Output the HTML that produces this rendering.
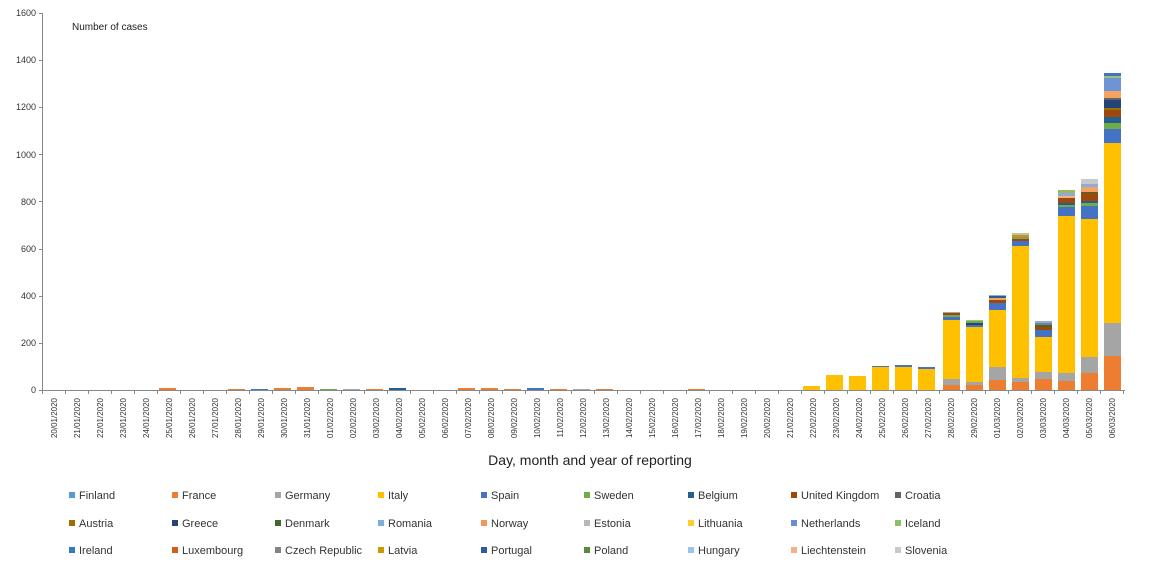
<!DOCTYPE html>
<html><head><meta charset="utf-8"><style>
html,body{margin:0;padding:0;background:#fff;}
svg{display:block;font-family:"Liberation Sans",Arial,sans-serif;}
</style></head><body>
<svg width="1160" height="570" viewBox="0 0 1160 570" xmlns="http://www.w3.org/2000/svg">
<rect width="1160" height="570" fill="#fff"/>
<g font-size="9" fill="#333" text-anchor="end">
<text x="36" y="393">0</text><text x="36" y="346">200</text><text x="36" y="299">400</text><text x="36" y="252">600</text><text x="36" y="205">800</text><text x="36" y="158">1000</text><text x="36" y="110">1200</text><text x="36" y="63">1400</text><text x="36" y="16">1600</text>
</g>
<text x="72" y="30" font-size="10" fill="#222">Number of cases</text>
<g stroke="#888" stroke-width="1">
<line x1="42.5" y1="13" x2="42.5" y2="390"/>
<line x1="39" y1="13.5" x2="42" y2="13.5"/><line x1="39" y1="60.5" x2="42" y2="60.5"/><line x1="39" y1="107.5" x2="42" y2="107.5"/><line x1="39" y1="154.5" x2="42" y2="154.5"/><line x1="39" y1="201.5" x2="42" y2="201.5"/><line x1="39" y1="249.5" x2="42" y2="249.5"/><line x1="39" y1="296.5" x2="42" y2="296.5"/><line x1="39" y1="343.5" x2="42" y2="343.5"/><line x1="39" y1="390.5" x2="42" y2="390.5"/>
</g>
<!-- small early bars -->
<g>
<rect x="159" y="388" width="17" height="2" fill="#ED7D31"/>
<rect x="228" y="389" width="17" height="1" fill="#ED7D31"/>
<rect x="251" y="389" width="17" height="1" fill="#4472C4"/>
<rect x="274" y="388" width="17" height="2" fill="#ED7D31"/>
<rect x="297" y="387" width="17" height="3" fill="#ED7D31"/>
<rect x="320" y="389" width="17" height="1" fill="#70AD47"/>
<rect x="343" y="389" width="17" height="1" fill="#A5A5A5"/>
<rect x="366" y="389" width="17" height="1" fill="#ED7D31"/>
<rect x="389" y="388" width="17" height="2" fill="#255E91"/>
<rect x="458" y="388" width="17" height="2" fill="#ED7D31"/>
<rect x="481" y="388" width="17" height="2" fill="#ED7D31"/>
<rect x="504" y="389" width="17" height="1" fill="#ED7D31"/>
<rect x="527" y="388" width="17" height="2" fill="#4472C4"/>
<rect x="550" y="389" width="17" height="1" fill="#ED7D31"/>
<rect x="573" y="389" width="17" height="1" fill="#A5A5A5"/>
<rect x="596" y="389" width="17" height="1" fill="#ED7D31"/>
<rect x="688" y="389" width="17" height="1" fill="#ED7D31"/>
<rect x="803" y="386" width="17" height="4" fill="#FFC000"/>
<rect x="826" y="375" width="17" height="15" fill="#FFC000"/>
<rect x="849" y="376" width="17" height="14" fill="#FFC000"/>
<rect x="872" y="367" width="17" height="23" fill="#FFC000"/><rect x="872" y="366" width="17" height="1" fill="#4472C4"/>
<rect x="895" y="367" width="17" height="23" fill="#FFC000"/><rect x="895" y="365" width="17" height="2" fill="#4472C4"/>
<rect x="918" y="369" width="17" height="21" fill="#FFC000"/><rect x="918" y="367" width="17" height="2" fill="#4472C4"/>
</g>
<!-- 28/02 -->
<rect x="943" y="385" width="17" height="5" fill="#ED7D31"/><rect x="943" y="379" width="17" height="6" fill="#A5A5A5"/><rect x="943" y="320" width="17" height="59" fill="#FFC000"/><rect x="943" y="317" width="17" height="3" fill="#4472C4"/><rect x="943" y="315" width="17" height="2" fill="#70AD47"/><rect x="943" y="313" width="17" height="2" fill="#9E480E"/><rect x="943" y="312" width="17" height="1" fill="#A5A5A5"/>
<!-- 29/02 -->
<rect x="966" y="385" width="17" height="5" fill="#ED7D31"/><rect x="966" y="382" width="17" height="3" fill="#A5A5A5"/><rect x="966" y="327" width="17" height="55" fill="#FFC000"/><rect x="966" y="325" width="17" height="2" fill="#4472C4"/><rect x="966" y="323" width="17" height="2" fill="#264478"/><rect x="966" y="321" width="17" height="2" fill="#70AD47"/><rect x="966" y="320" width="17" height="1" fill="#9BC57F"/>
<!-- 01/03 -->
<rect x="989" y="380" width="17" height="10" fill="#ED7D31"/><rect x="989" y="367" width="17" height="13" fill="#A5A5A5"/><rect x="989" y="310" width="17" height="57" fill="#FFC000"/><rect x="989" y="303" width="17" height="7" fill="#4472C4"/><rect x="989" y="300" width="17" height="3" fill="#9E480E"/><rect x="989" y="298" width="17" height="2" fill="#F4A460"/><rect x="989" y="296" width="17" height="2" fill="#255E91"/><rect x="989" y="295" width="17" height="1" fill="#8FAADC"/>
<!-- 02/03 -->
<rect x="1012" y="382" width="17" height="8" fill="#ED7D31"/><rect x="1012" y="378" width="17" height="4" fill="#A5A5A5"/><rect x="1012" y="246" width="17" height="132" fill="#FFC000"/><rect x="1012" y="241" width="17" height="5" fill="#4472C4"/><rect x="1012" y="239" width="17" height="2" fill="#9E480E"/><rect x="1012" y="237" width="17" height="2" fill="#70AD47"/><rect x="1012" y="235" width="17" height="2" fill="#ED7D31"/><rect x="1012" y="233" width="17" height="2" fill="#A9D18E"/>
<!-- 03/03 -->
<rect x="1035" y="379" width="17" height="11" fill="#ED7D31"/><rect x="1035" y="372" width="17" height="7" fill="#A5A5A5"/><rect x="1035" y="337" width="17" height="35" fill="#FFC000"/><rect x="1035" y="330" width="17" height="7" fill="#4472C4"/><rect x="1035" y="327" width="17" height="3" fill="#9E480E"/><rect x="1035" y="325" width="17" height="2" fill="#43682B"/><rect x="1035" y="323" width="17" height="2" fill="#7F7F7F"/><rect x="1035" y="321" width="17" height="2" fill="#8FAADC"/>
<!-- 04/03 -->
<rect x="1058" y="381" width="17" height="9" fill="#ED7D31"/><rect x="1058" y="373" width="17" height="8" fill="#A5A5A5"/><rect x="1058" y="216" width="17" height="157" fill="#FFC000"/><rect x="1058" y="207" width="17" height="9" fill="#4472C4"/><rect x="1058" y="205" width="17" height="2" fill="#70AD47"/><rect x="1058" y="203" width="17" height="2" fill="#255E91"/><rect x="1058" y="198" width="17" height="5" fill="#9E480E"/><rect x="1058" y="196" width="17" height="2" fill="#F4B183"/><rect x="1058" y="193" width="17" height="3" fill="#8FAADC"/><rect x="1058" y="190" width="17" height="3" fill="#9BBB59"/>
<!-- 05/03 -->
<rect x="1081" y="373" width="17" height="17" fill="#ED7D31"/><rect x="1081" y="357" width="17" height="16" fill="#A5A5A5"/><rect x="1081" y="219" width="17" height="138" fill="#FFC000"/><rect x="1081" y="206" width="17" height="13" fill="#4472C4"/><rect x="1081" y="203" width="17" height="3" fill="#70AD47"/><rect x="1081" y="201" width="17" height="2" fill="#255E91"/><rect x="1081" y="193" width="17" height="8" fill="#9E480E"/><rect x="1081" y="192" width="17" height="1" fill="#43682B"/><rect x="1081" y="187" width="17" height="5" fill="#F4A460"/><rect x="1081" y="184" width="17" height="3" fill="#8FAADC"/><rect x="1081" y="179" width="17" height="5" fill="#C9C9C9"/>
<!-- 06/03 -->
<rect x="1104" y="356" width="17" height="34" fill="#ED7D31"/><rect x="1104" y="323" width="17" height="33" fill="#A5A5A5"/><rect x="1104" y="143" width="17" height="180" fill="#FFC000"/><rect x="1104" y="129" width="17" height="14" fill="#4472C4"/><rect x="1104" y="123" width="17" height="6" fill="#70AD47"/><rect x="1104" y="117" width="17" height="6" fill="#255E91"/><rect x="1104" y="110" width="17" height="7" fill="#9E480E"/><rect x="1104" y="108" width="17" height="2" fill="#997300"/><rect x="1104" y="100" width="17" height="8" fill="#264478"/><rect x="1104" y="98" width="17" height="2" fill="#636363"/><rect x="1104" y="91" width="17" height="7" fill="#F4A460"/><rect x="1104" y="78" width="17" height="13" fill="#6F94D6"/><rect x="1104" y="76" width="17" height="2" fill="#9BC57F"/><rect x="1104" y="73" width="17" height="3" fill="#4472C4"/>
<line x1="42" y1="390.5" x2="1125" y2="390.5" stroke="#888" stroke-width="1"/>
<g stroke="#888" stroke-width="1">
<path d="M42.5 390v4M65.5 390v4M88.5 390v4M111.5 390v4M134.5 390v4M157.5 390v4M180.5 390v4M203.5 390v4M226.5 390v4M249.5 390v4M272.5 390v4M295.5 390v4M318.5 390v4M341.5 390v4M364.5 390v4M387.5 390v4M410.5 390v4M433.5 390v4M456.5 390v4M479.5 390v4M502.5 390v4M525.5 390v4M548.5 390v4M571.5 390v4M594.5 390v4M617.5 390v4M640.5 390v4M663.5 390v4M686.5 390v4M709.5 390v4M732.5 390v4M755.5 390v4M778.5 390v4M801.5 390v4M824.5 390v4M847.5 390v4M870.5 390v4M893.5 390v4M916.5 390v4M939.5 390v4M962.5 390v4M985.5 390v4M1008.5 390v4M1031.5 390v4M1054.5 390v4M1077.5 390v4M1100.5 390v4M1123.5 390v4"/>
</g>
<g font-size="8" fill="#333" text-anchor="end">
<text transform="translate(57,398) rotate(-90)">20/01/2020</text>
<text transform="translate(80,398) rotate(-90)">21/01/2020</text>
<text transform="translate(103,398) rotate(-90)">22/01/2020</text>
<text transform="translate(126,398) rotate(-90)">23/01/2020</text>
<text transform="translate(149,398) rotate(-90)">24/01/2020</text>
<text transform="translate(172,398) rotate(-90)">25/01/2020</text>
<text transform="translate(195,398) rotate(-90)">26/01/2020</text>
<text transform="translate(218,398) rotate(-90)">27/01/2020</text>
<text transform="translate(241,398) rotate(-90)">28/01/2020</text>
<text transform="translate(264,398) rotate(-90)">29/01/2020</text>
<text transform="translate(287,398) rotate(-90)">30/01/2020</text>
<text transform="translate(310,398) rotate(-90)">31/01/2020</text>
<text transform="translate(333,398) rotate(-90)">01/02/2020</text>
<text transform="translate(356,398) rotate(-90)">02/02/2020</text>
<text transform="translate(379,398) rotate(-90)">03/02/2020</text>
<text transform="translate(402,398) rotate(-90)">04/02/2020</text>
<text transform="translate(425,398) rotate(-90)">05/02/2020</text>
<text transform="translate(448,398) rotate(-90)">06/02/2020</text>
<text transform="translate(471,398) rotate(-90)">07/02/2020</text>
<text transform="translate(494,398) rotate(-90)">08/02/2020</text>
<text transform="translate(517,398) rotate(-90)">09/02/2020</text>
<text transform="translate(540,398) rotate(-90)">10/02/2020</text>
<text transform="translate(563,398) rotate(-90)">11/02/2020</text>
<text transform="translate(586,398) rotate(-90)">12/02/2020</text>
<text transform="translate(609,398) rotate(-90)">13/02/2020</text>
<text transform="translate(632,398) rotate(-90)">14/02/2020</text>
<text transform="translate(655,398) rotate(-90)">15/02/2020</text>
<text transform="translate(678,398) rotate(-90)">16/02/2020</text>
<text transform="translate(701,398) rotate(-90)">17/02/2020</text>
<text transform="translate(724,398) rotate(-90)">18/02/2020</text>
<text transform="translate(747,398) rotate(-90)">19/02/2020</text>
<text transform="translate(770,398) rotate(-90)">20/02/2020</text>
<text transform="translate(793,398) rotate(-90)">21/02/2020</text>
<text transform="translate(816,398) rotate(-90)">22/02/2020</text>
<text transform="translate(839,398) rotate(-90)">23/02/2020</text>
<text transform="translate(862,398) rotate(-90)">24/02/2020</text>
<text transform="translate(885,398) rotate(-90)">25/02/2020</text>
<text transform="translate(908,398) rotate(-90)">26/02/2020</text>
<text transform="translate(931,398) rotate(-90)">27/02/2020</text>
<text transform="translate(954,398) rotate(-90)">28/02/2020</text>
<text transform="translate(977,398) rotate(-90)">29/02/2020</text>
<text transform="translate(1000,398) rotate(-90)">01/03/2020</text>
<text transform="translate(1023,398) rotate(-90)">02/03/2020</text>
<text transform="translate(1046,398) rotate(-90)">03/03/2020</text>
<text transform="translate(1069,398) rotate(-90)">04/03/2020</text>
<text transform="translate(1092,398) rotate(-90)">05/03/2020</text>
<text transform="translate(1115,398) rotate(-90)">06/03/2020</text>
</g>
<text x="590" y="465" font-size="14" fill="#222" text-anchor="middle">Day, month and year of reporting</text>
<g font-size="11" fill="#333">
<rect x="69" y="492" width="6" height="6" fill="#5B9BD5"/><text x="79" y="499">Finland</text>
<rect x="172" y="492" width="6" height="6" fill="#ED7D31"/><text x="182" y="499">France</text>
<rect x="275" y="492" width="6" height="6" fill="#A5A5A5"/><text x="285" y="499">Germany</text>
<rect x="378" y="492" width="6" height="6" fill="#FFC000"/><text x="388" y="499">Italy</text>
<rect x="481" y="492" width="6" height="6" fill="#4472C4"/><text x="491" y="499">Spain</text>
<rect x="584" y="492" width="6" height="6" fill="#70AD47"/><text x="594" y="499">Sweden</text>
<rect x="688" y="492" width="6" height="6" fill="#255E91"/><text x="698" y="499">Belgium</text>
<rect x="791" y="492" width="6" height="6" fill="#9E480E"/><text x="801" y="499">United Kingdom</text>
<rect x="895" y="492" width="6" height="6" fill="#636363"/><text x="905" y="499">Croatia</text>

<rect x="69" y="520" width="6" height="6" fill="#997300"/><text x="79" y="527">Austria</text>
<rect x="172" y="520" width="6" height="6" fill="#264478"/><text x="182" y="527">Greece</text>
<rect x="275" y="520" width="6" height="6" fill="#43682B"/><text x="285" y="527">Denmark</text>
<rect x="378" y="520" width="6" height="6" fill="#7CAFDD"/><text x="388" y="527">Romania</text>
<rect x="481" y="520" width="6" height="6" fill="#F1975A"/><text x="491" y="527">Norway</text>
<rect x="584" y="520" width="6" height="6" fill="#B7B7B7"/><text x="594" y="527">Estonia</text>
<rect x="688" y="520" width="6" height="6" fill="#FFCD33"/><text x="698" y="527">Lithuania</text>
<rect x="791" y="520" width="6" height="6" fill="#698ED0"/><text x="801" y="527">Netherlands</text>
<rect x="895" y="520" width="6" height="6" fill="#8CC168"/><text x="905" y="527">Iceland</text>

<rect x="69" y="547" width="6" height="6" fill="#327DC2"/><text x="79" y="554">Ireland</text>
<rect x="172" y="547" width="6" height="6" fill="#D26012"/><text x="182" y="554">Luxembourg</text>
<rect x="275" y="547" width="6" height="6" fill="#848484"/><text x="285" y="554">Czech Republic</text>
<rect x="378" y="547" width="6" height="6" fill="#CC9A00"/><text x="388" y="554">Latvia</text>
<rect x="481" y="547" width="6" height="6" fill="#335AA1"/><text x="491" y="554">Portugal</text>
<rect x="584" y="547" width="6" height="6" fill="#5A8A39"/><text x="594" y="554">Poland</text>
<rect x="688" y="547" width="6" height="6" fill="#9DC3E6"/><text x="698" y="554">Hungary</text>
<rect x="791" y="547" width="6" height="6" fill="#F4B183"/><text x="801" y="554">Liechtenstein</text>
<rect x="895" y="547" width="6" height="6" fill="#C9C9C9"/><text x="905" y="554">Slovenia</text>
</g>
</svg>
</body></html>
